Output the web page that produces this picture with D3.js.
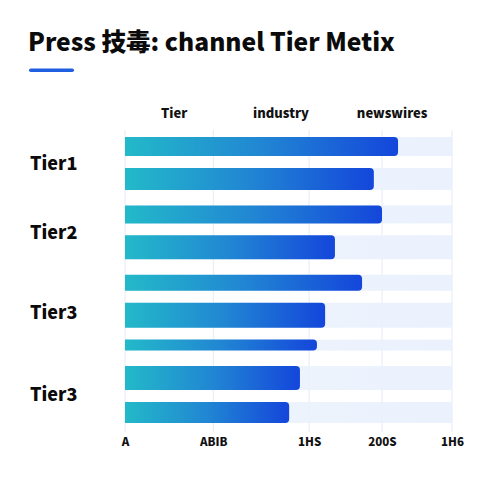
<!DOCTYPE html>
<html><head><meta charset="utf-8">
<script src="https://cdn.jsdelivr.net/npm/d3@7"></script>
<style>html,body{margin:0;padding:0;background:#fff;}</style>
</head><body>
<script>
const title = "Press 技毒: channel Tier Metix";
const rowLabels = ["Tier1","Tier2","Tier3","Tier3"];
const rowGroups = [0,0,1,1,2,2,2,3,3];
const values = [83.5,76.1,78.6,64.2,72.5,61.2,58.7,53.5,50.2];
const weights = [0.76,0.88,0.72,0.96,0.64,1.0,0.44,0.96,0.84];
const tickValues = [0,27,56.3,78.6,100];
const tickLabels = ["A","ABIB","1HS","200S","1H6"];
const headerLabels = ["Tier","industry","newswires"];
const headerPos = [15,47.7,81.7];

(function(){
const W=480,H=480;
const FONT="'Noto Sans CJK SC','Noto Sans',sans-serif";
const svg=d3.select("body").append("svg").attr("width",W).attr("height",H)
  .style("font-family",FONT);
const defs=svg.append("defs");
const grad=defs.append("linearGradient").attr("id","bar").attr("x1","0").attr("x2","1").attr("y1","0").attr("y2","0");
grad.append("stop").attr("offset","0%").attr("stop-color","#23b9c9");
grad.append("stop").attr("offset","50%").attr("stop-color","#2186d3");
grad.append("stop").attr("offset","100%").attr("stop-color","#1446db");
const tg=defs.append("linearGradient").attr("id","track").attr("x1","0").attr("x2","1");
tg.append("stop").attr("offset","0%").attr("stop-color","#eef4fc");
tg.append("stop").attr("offset","100%").attr("stop-color","#e8f0fd");

const pl=125,pr=452,pt=137,pb=423;
const x=d3.scaleLinear().domain([0,100]).range([pl,pr]);
const th=d3.scaleLinear().domain([0,1]).range([0,25]);
const thick=weights.map(w=>th(w));
const nIn=rowGroups.filter((g,i)=>i>0&&g===rowGroups[i-1]).length;
const nOut=rowGroups.length-1-nIn;
const free=pb-pt-d3.sum(thick);
const ratio=1.3;
const gIn=free/(nIn+nOut*ratio), gOut=gIn*ratio;
const starts=[];let acc=0;
thick.forEach((t,i)=>{
  if(i>0) acc+= (rowGroups[i]===rowGroups[i-1]?gIn:gOut);
  starts.push(acc);acc+=t;
});
const y=d3.scaleLinear().domain([0,pb-pt]).range([pt,pb]);

svg.append("text").attr("x",28).attr("y",50.5).attr("font-size",24.6).attr("font-weight",900)
  .attr("fill","#0b0b0b").text(title);
svg.append("rect").attr("x",29).attr("y",68.5).attr("width",45).attr("height",3.5).attr("rx",1.75).attr("fill","#1f5fe0");

svg.append("g").selectAll("line").data(tickValues).join("line")
  .attr("x1",d=>x(d)).attr("x2",d=>x(d)).attr("y1",130).attr("y2",432)
  .attr("stroke","#e4ebf4").attr("stroke-width",1);

svg.append("g").selectAll("rect").data(values).join("rect")
  .attr("x",x(0)).attr("width",x(100)-x(0))
  .attr("y",(d,i)=>y(starts[i])).attr("height",(d,i)=>thick[i])
  .attr("fill","url(#track)").attr("opacity",0.9);

const barPath=(x0,x1,y0,h,r)=>{r=Math.min(r,h/2);return `M${x0},${y0}H${x1-r}Q${x1},${y0} ${x1},${y0+r}V${y0+h-r}Q${x1},${y0+h} ${x1-r},${y0+h}H${x0}Z`;};
svg.append("g").selectAll("path").data(values).join("path")
  .attr("d",(d,i)=>barPath(x(0),x(d),y(starts[i]),thick[i],4))
  .attr("fill","url(#bar)");

const groupCenters=rowLabels.map((l,g)=>{
  const idx=rowGroups.map((v,i)=>v===g?i:-1).filter(i=>i>=0);
  const a=y(starts[idx[0]]), b=y(starts[idx[idx.length-1]]+thick[idx[idx.length-1]]);
  return (a+b)/2;
});
svg.append("g").selectAll("text").data(rowLabels).join("text")
  .attr("x",30).attr("y",(d,i)=>groupCenters[i]).attr("dy","0.35em")
  .attr("font-size",18).attr("font-weight",900).attr("fill","#0b0b0b").text(d=>d);

svg.append("g").selectAll("text").data(headerLabels).join("text")
  .attr("x",(d,i)=>x(headerPos[i])).attr("y",113).attr("dy","0.35em").attr("text-anchor","middle")
  .attr("font-size",13).attr("font-weight",900).attr("fill","#111").text(d=>d);

const axis=d3.axisBottom(x).tickValues(tickValues).tickFormat((d,i)=>tickLabels[i]).tickSize(0).tickPadding(0);
const ag=svg.append("g").attr("transform","translate(0,438)").call(axis);
ag.select(".domain").remove();
ag.selectAll("text").attr("font-size",11.5).attr("font-weight",900).attr("fill","#111")
  .attr("font-family",FONT);
})();
</script>
</body></html>
